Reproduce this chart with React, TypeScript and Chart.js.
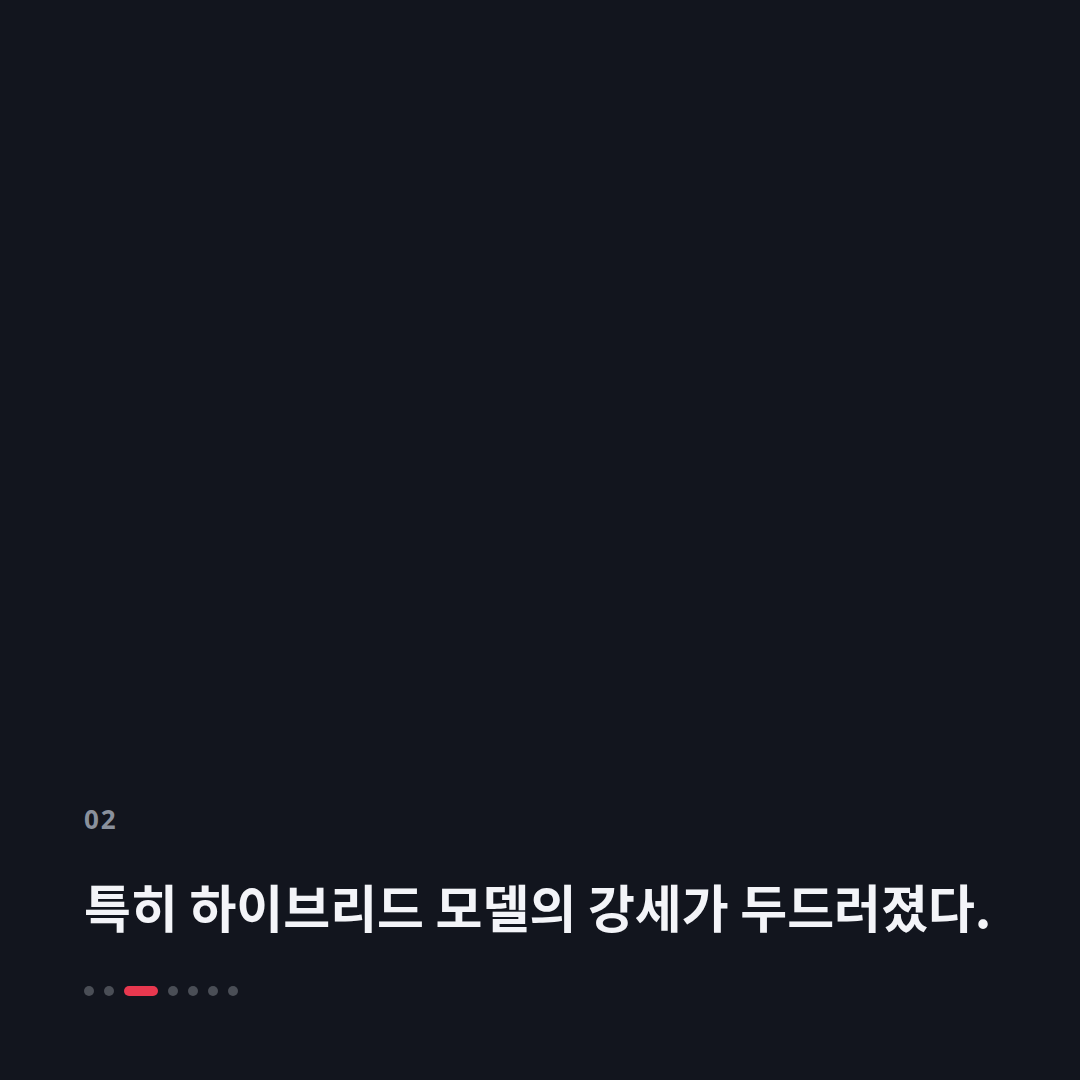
import React, { useEffect, useRef } from "react";
import { Chart, registerables } from "chart.js";

Chart.register(...registerables);

const slideNumber = "02";
const headline = "특히 하이브리드 모델의 강세가 두드러졌다.";
const totalPages = 7;
const activePage = 2;
const categories: string[] = [];
const seriesValues: number[] = [];

export default function App() {
  const ref = useRef<HTMLCanvasElement | null>(null);
  useEffect(() => {
    if (!ref.current) return;
    const chart = new Chart(ref.current, {
      type: "bar",
      data: { labels: categories, datasets: [{ data: seriesValues, backgroundColor: "#e8384f" }] },
      options: {
        animation: false,
        responsive: false,
        plugins: { legend: { display: false }, tooltip: { enabled: false } },
        scales: { x: { display: false }, y: { display: false } },
      },
    });
    return () => chart.destroy();
  }, []);

  const dots = [];
  for (let i = 0; i < totalPages; i++) {
    const active = i === activePage;
    dots.push(
      <div
        key={i}
        style={{
          width: active ? 34 : 10,
          height: 10,
          borderRadius: 5,
          background: active ? "#e8384f" : "#4a4e56",
          marginRight: 10,
        }}
      />
    );
  }

  return (
    <div
      style={{
        position: "fixed",
        left: 0,
        top: 0,
        width: 1080,
        height: 1080,
        background: "#12151e",
        fontFamily: "'Noto Sans CJK KR', 'Noto Sans', sans-serif",
        overflow: "hidden",
      }}
    >
      <canvas ref={ref} width={912} height={680} style={{ position: "absolute", left: 84, top: 80 }} />
      <div
        style={{
          position: "absolute",
          left: 84,
          top: 800,
          fontSize: 26,
          fontWeight: 700,
          color: "#8a919d",
          letterSpacing: 2,
          lineHeight: "38px",
          fontFamily: "'Noto Sans', sans-serif",
        }}
      >
        {slideNumber}
      </div>
      <div
        style={{
          position: "absolute",
          left: 84,
          top: 871,
          fontSize: 51,
          fontWeight: 700,
          color: "#f3f4f8",
          lineHeight: "70px",
          whiteSpace: "nowrap",
          letterSpacing: 0,
        }}
      >
        {headline}
      </div>
      <div style={{ position: "absolute", left: 84, top: 986, display: "flex" }}>{dots}</div>
    </div>
  );
}
